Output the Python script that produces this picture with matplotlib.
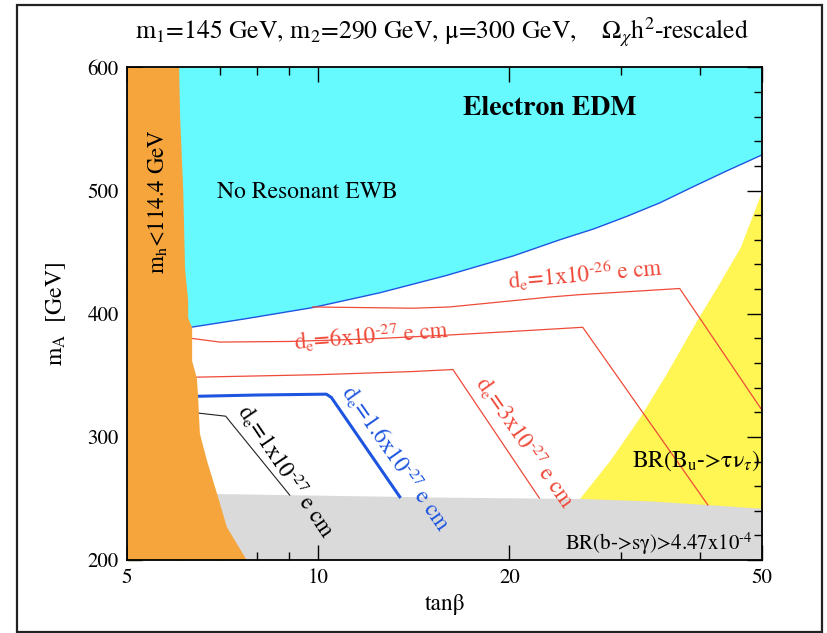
import matplotlib
matplotlib.use('Agg')
import matplotlib.pyplot as plt
from matplotlib.patches import Rectangle
from matplotlib.ticker import FixedLocator, FixedFormatter, NullFormatter

plt.rcParams['font.family'] = ['STIXGeneral', 'DejaVu Serif']
plt.rcParams['mathtext.fontset'] = 'stix'

# excluded regions (tan beta, m_A [GeV])
orange_tb = [6.03, 6.05, 6.12, 6.16, 6.23, 6.23, 6.32, 6.32, 6.43, 6.46, 6.50, 6.67, 6.92, 7.17, 7.71]
orange_ma = [600, 561, 500, 437, 411, 397, 389, 362, 348, 332, 303, 281, 254, 227, 200]

edm_tb = [6.30, 7.7, 9.8, 12.5, 15.9, 20.3, 24.0, 27.2, 30.6, 34.5, 38.9, 44.0, 50.0]
edm_ma = [389, 396, 405, 417, 431, 447, 460, 469, 479, 490, 503, 516, 529]

bsg_tb = [5.0, 6.92, 16.1, 25.8, 33.3, 41.0, 50.0]
bsg_ma = [254, 254, 251, 250, 248, 245, 242]

btau_tb = [25.8, 25.8, 28.8, 32.1, 35.4, 39.5, 42.5, 46.2, 50.0]
btau_ma = [240, 250, 281, 316, 352, 395, 422, 454, 500]

# d_e contours
c1e26_tb = [9.8, 14.1, 16.1, 23.2, 25.8, 37.1, 50.0]
c1e26_ma = [405.5, 404.5, 405.5, 413.6, 415.5, 420.5, 321.7]

c6e27_tb = [6.32, 7.0, 9.0, 12.0, 15.9, 20.0, 26.1, 41.1]
c6e27_ma = [380, 377, 377.5, 379.5, 382.6, 385.5, 389, 244.6]

c3e27_tb = [6.43, 10.0, 14.0, 16.3, 22.3]
c3e27_ma = [348.5, 350.5, 353, 354.7, 250.3]

c16e27_tb = [6.48, 8.0, 10.3, 10.49, 13.44]
c16e27_ma = [333, 334, 334.7, 332, 251.4]

c1e27_tb = [6.48, 7.15, 9.02]
c1e27_ma = [319.3, 316.8, 252.7]

x_major = [5, 10, 20, 50]
x_minor = [6, 7, 8, 9, 30, 40]
x_labels = ['5', '10', '20', '50']

ORANGE = '#f5a53c'
CYAN = '#66faff'
YELLOW = '#fff553'
GRAY = '#dadada'
RED = '#ef4a3a'
BLUE = '#1e55e0'

fig = plt.figure(figsize=(8.27, 6.33), dpi=100)
ax = fig.add_axes([0.1536, 0.1153, 0.7678, 0.7781])
ax.set_xscale('log')
ax.set_xlim(5, 50)
ax.set_ylim(200, 600)

# regions
ax.fill(edm_tb + [50, 5, 5], edm_ma + [600, 600, edm_ma[0]], color=CYAN, lw=0, zorder=1)
ax.plot(edm_tb, edm_ma, color=BLUE, lw=1.0, zorder=2)
ax.fill_betweenx(btau_ma, btau_tb, 50, color=YELLOW, lw=0, zorder=1)
ax.fill_between(bsg_tb, 200, bsg_ma, color=GRAY, lw=0, zorder=1.2)
ax.fill_betweenx(orange_ma, 5, orange_tb, color=ORANGE, lw=0, zorder=3)

# contours
ax.plot(c1e26_tb, c1e26_ma, color=RED, lw=0.9, zorder=2)
ax.plot(c6e27_tb, c6e27_ma, color=RED, lw=0.9, zorder=2)
ax.plot(c3e27_tb, c3e27_ma, color=RED, lw=0.9, zorder=2)
ax.plot(c16e27_tb, c16e27_ma, color=BLUE, lw=2.2, zorder=2)
ax.plot(c1e27_tb, c1e27_ma, color='#222222', lw=0.8, zorder=2)

# labels
fs = 16.5
lab = dict(ha='center', va='center', rotation_mode='anchor', zorder=4)
ax.text(26.3, 432.9, r'd$_\mathrm{e}$=1x10$^{\text{-26}}$ e cm', color=RED, fontsize=fs, rotation=5, **lab)
ax.text(12.14, 381.7, r'd$_\mathrm{e}$=6x10$^{\text{-27}}$ e cm', color=RED, fontsize=fs, rotation=4.5, **lab)
ax.text(21.16, 295.7, r'd$_\mathrm{e}$=3x10$^{\text{-27}}$ e cm', color=RED, fontsize=fs, rotation=-55, **lab)
ax.text(13.25, 282.8, r'd$_\mathrm{e}$=1.6x10$^{\text{-27}}$ e cm', color=BLUE, fontsize=fs, rotation=-55, **lab)
ax.text(8.92, 272.2, r'd$_\mathrm{e}$=1x10$^{\text{-27}}$ e cm', color='black', fontsize=fs, rotation=-56, **lab)

ax.text(23.2, 566.7, 'Electron EDM', fontsize=20, fontweight='bold', ha='center', va='center', zorder=4)
ax.text(6.94, 493.7, 'No Resonant EWB', fontsize=17, ha='left', va='baseline', zorder=4)
ax.text(5.58, 491, r'm$_\mathrm{h}$<114.4 GeV', fontsize=16.5, rotation=90, ha='center', va='center', zorder=4)
ax.text(31.2, 275.5, r'BR(B$_\mathrm{u}$->τν$_τ$)', fontsize=17, ha='left', va='baseline', zorder=4)
ax.text(24.5, 208.1, r'BR(b->sγ)>4.47x10$^{\text{-4}}$', fontsize=15, ha='left', va='baseline', zorder=4)

# ticks
ax.xaxis.set_major_locator(FixedLocator(x_major))
ax.xaxis.set_major_formatter(FixedFormatter(x_labels))
ax.xaxis.set_minor_locator(FixedLocator(x_minor))
ax.xaxis.set_minor_formatter(NullFormatter())
ax.yaxis.set_major_locator(FixedLocator(range(200, 601, 100)))
ax.yaxis.set_minor_locator(FixedLocator(range(220, 600, 20)))
ax.tick_params(which='both', direction='in', top=True, right=True, labelsize=15, width=1.0, pad=6)
ax.tick_params(which='major', length=11)
ax.tick_params(which='minor', length=6)
for s in ax.spines.values():
    s.set_linewidth(1.3)
    s.set_zorder(5)

ax.set_xlabel('tanβ', fontsize=17, labelpad=4)
ax.set_ylabel(r'm$_\mathrm{A}$  [GeV]', fontsize=17, labelpad=14)

fig.text(0.534, 0.948, r'm$_1$=145 GeV, m$_2$=290 GeV, μ=300 GeV,    Ω$_\chi$h$^2$-rescaled',
         fontsize=18.5, ha='center', va='center')

fig.patches.append(Rectangle((17 / 827, 1 - 632 / 633), 805 / 827, 627 / 633,
                             transform=fig.transFigure, fill=False, lw=1.6, ec='#222222'))

fig.savefig('out.png', dpi=100)
